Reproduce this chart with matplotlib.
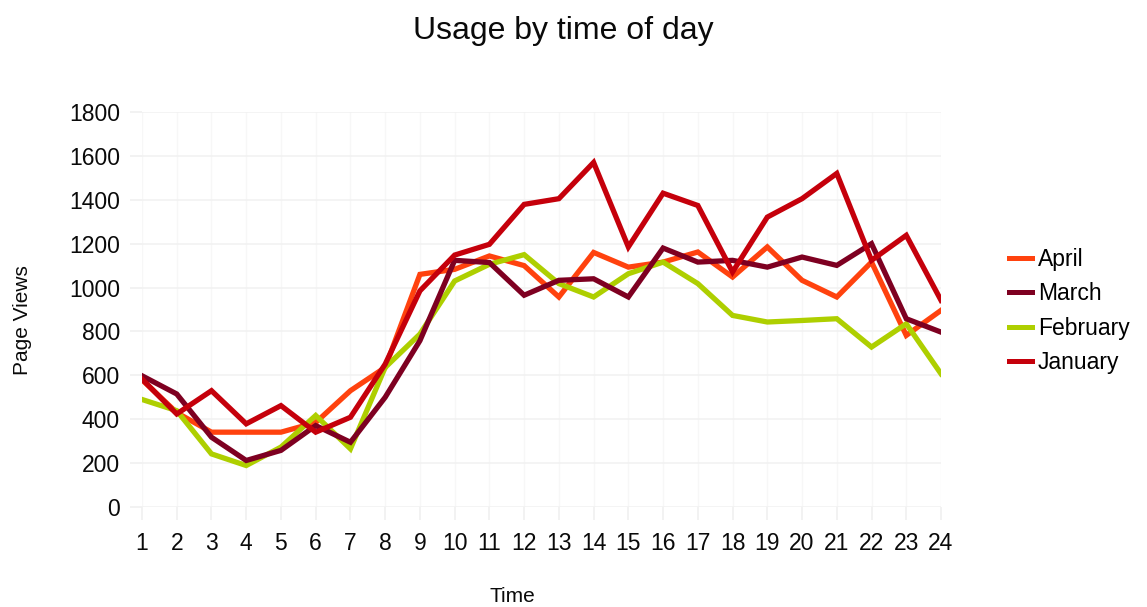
import matplotlib
matplotlib.use("Agg")
import matplotlib.pyplot as plt

plt.rcParams['font.family'] = ['Liberation Sans', 'DejaVu Sans']

hours = list(range(1, 25))
april = [580, 430, 341, 341, 341, 385, 530, 636, 1060, 1083, 1144, 1100, 957, 1160, 1093,
         1116, 1162, 1048, 1185, 1033, 957, 1116, 782, 896]
march = [598, 515, 318, 212, 258, 371, 295, 500, 758, 1124, 1114, 965, 1033, 1040, 957,
         1180, 1116, 1124, 1093, 1139, 1101, 1200, 858, 797]
february = [490, 439, 242, 189, 273, 417, 265, 636, 788, 1030, 1106, 1150, 1018, 957, 1063,
            1116, 1018, 873, 843, 850, 858, 729, 835, 607]
january = [583, 424, 530, 379, 462, 341, 409, 651, 985, 1148, 1197, 1379, 1405, 1570, 1185,
           1430, 1374, 1071, 1321, 1405, 1520, 1124, 1238, 942]

series_names = ['April', 'March', 'February', 'January']
series_values = [april, march, february, january]
series_colors = ['#ff420e', '#7e0021', '#aecf00', '#c5000b']
draw_order = [0, 2, 1, 3]

yticks = [0, 200, 400, 600, 800, 1000, 1200, 1400, 1600, 1800]

fig = plt.figure(figsize=(11.47, 6.07), dpi=100)
ax = fig.add_axes([142 / 1147, 1 - 507 / 607, (941 - 142) / 1147, (507 - 112) / 607])

handles = {}
for i in draw_order:
    ln, = ax.plot(hours, series_values[i], color=series_colors[i], lw=3.8,
                  solid_joinstyle='miter', label=series_names[i])
    handles[i] = ln

ax.set_xlim(1, 24)
ax.set_ylim(0, 1800)
ax.set_xticks(hours)
ax.set_yticks(yticks)
ax.grid(True, axis='y', color='#f2f2f2', lw=1.2)
ax.grid(True, axis='x', color='#f7f7f7', lw=1.0)
ax.set_axisbelow(True)
for s in ax.spines.values():
    s.set_visible(False)
ax.tick_params(axis='both', colors='#f0f0f0', length=9, width=1.2, labelcolor='#0a0a0a',
               labelsize=16.5)
ax.tick_params(axis='y', pad=7)
ax.tick_params(axis='x', pad=9)

fig.text(563 / 1147, 1 - 31 / 607, 'Usage by time of day', ha='center', va='center',
         fontsize=23, color='#0a0a0a')
fig.text(22 / 1147, 1 - 320 / 607, 'Page Views', ha='center', va='center', rotation=90,
         fontsize=15, color='#0a0a0a')
fig.text(512 / 1147, 1 - 596 / 607, 'Time', ha='center', va='center',
         fontsize=15, color='#0a0a0a')

leg = fig.legend([handles[i] for i in range(4)], series_names, loc='upper left',
                 bbox_to_anchor=(1009 / 1147, 1 - 248 / 607), frameon=False,
                 fontsize=16.5, handlelength=1.0, handletextpad=0.25,
                 labelspacing=0.5, borderaxespad=0, borderpad=0)
for l in leg.get_lines():
    l.set_linewidth(3.6)

fig.savefig('out.png', dpi=100)
